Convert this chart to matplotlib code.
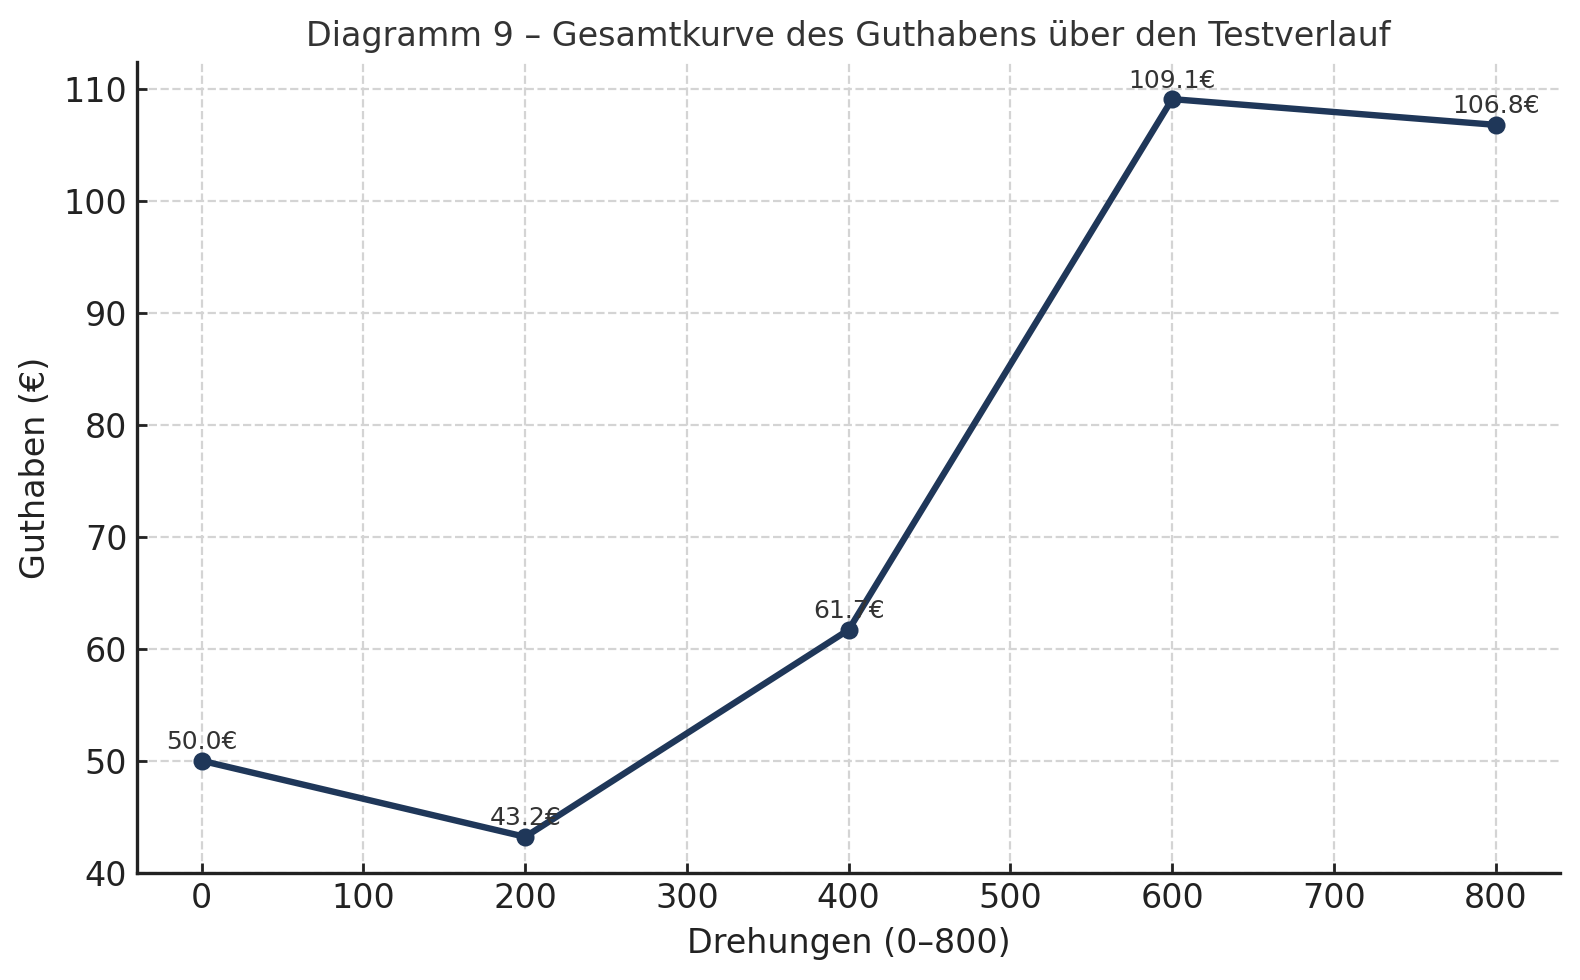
import matplotlib
matplotlib.use("Agg")
import matplotlib.pyplot as plt

spins = [0, 200, 400, 600, 800]
balance = [50.0, 43.2, 61.7, 109.1, 106.8]
labels = [f"{v:.1f}€" for v in balance]

plt.rcParams['font.family'] = ['DejaVu Sans']

fig, ax = plt.subplots(figsize=(7.9, 4.9), dpi=200)
line_color = "#1f3759"
ax.plot(spins, balance, color=line_color, linewidth=2.3, marker='o', markersize=5.5)
for x, y, t in zip(spins, balance, labels):
    ax.annotate(t, (x, y), xytext=(0, 2.3), textcoords='offset points',
                ha='center', va='bottom', fontsize=9, color='#333333')

ax.set_ylim(bottom=40)
ax.set_title("Diagramm 9 – Gesamtkurve des Guthabens über den Testverlauf",
             fontsize=12, color='#333333')
ax.set_xlabel("Drehungen (0–800)", fontsize=12, color='#222222')
ax.set_ylabel("Guthaben (€)", fontsize=12, color='#222222')
ax.tick_params(direction='in', labelsize=12, colors='#222222', width=1.0)
ax.grid(True, linestyle='--', color='#d4d4d4', linewidth=0.8)
ax.set_axisbelow(True)
for s in ['top', 'right']:
    ax.spines[s].set_visible(False)
for s in ['left', 'bottom']:
    ax.spines[s].set_color('#222222')
    ax.spines[s].set_linewidth(1.2)

fig.subplots_adjust(left=0.0867, right=0.9876, top=0.9365, bottom=0.1095)
fig.savefig("out.png", dpi=200)
